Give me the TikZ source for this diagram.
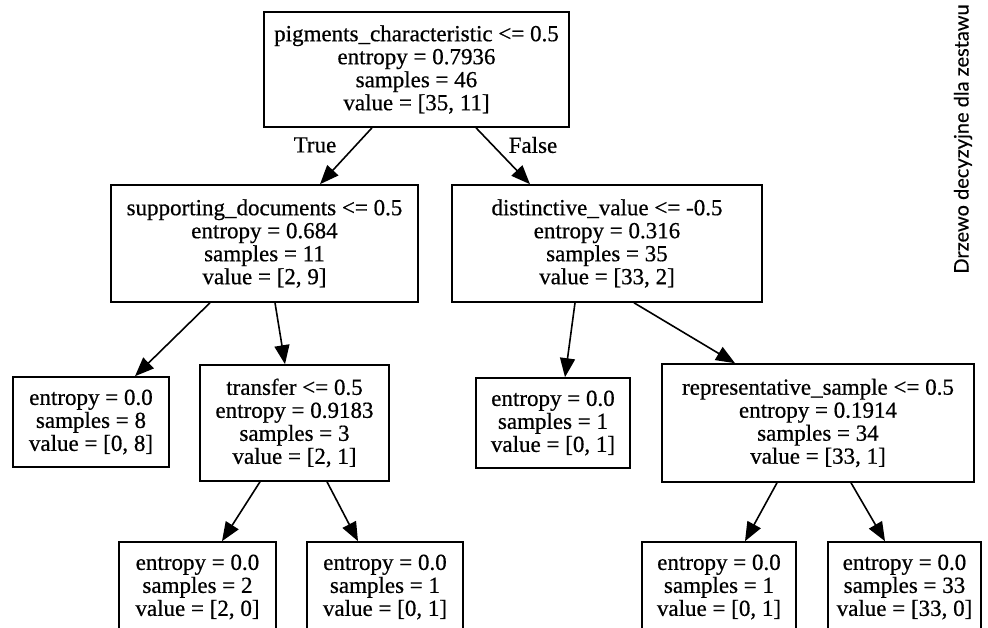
\documentclass[tikz,border=0pt]{standalone}
\usepackage{fontspec}
\setmainfont{Liberation Serif}[FakeBold=0.6]
\newfontfamily\titlefont{Lato}[FakeBold=0.3]
\usetikzlibrary{arrows.meta}

\begin{document}
\begin{tikzpicture}[x=1pt, y=-1pt,
    treenode/.style={draw, line width=1.6pt, rectangle, align=center, inner sep=0pt,
      font=\fontsize{23}{23}\selectfont},
    leafnode/.style={treenode, minimum width=155, minimum height=90},
    edge/.style={line width=1.6pt, -{Triangle[length=19pt, width=15pt]}},
    edgelabel/.style={font=\fontsize{23}{23}\selectfont}]
    \useasboundingbox (0,0) rectangle (988,628);
    \clip (0,0) rectangle (988,628);

    % Draw split nodes
    \node[treenode, minimum width=305, minimum height=115] (root) at (416.5,69.5)
      {pigments\_characteristic <= 0.5\\entropy = 0.7936\\samples = 46\\value = [35, 11]};
    \node[treenode, minimum width=307, minimum height=117] (supp) at (264.5,243.5)
      {supporting\_documents <= 0.5\\entropy = 0.684\\samples = 11\\value = [2, 9]};
    \node[treenode, minimum width=310, minimum height=117] (dist) at (607,243.5)
      {distinctive\_value <= -0.5\\entropy = 0.316\\samples = 35\\value = [33, 2]};
    \node[treenode, minimum width=189, minimum height=116] (transfer) at (294.5,423)
      {transfer <= 0.5\\entropy = 0.9183\\samples = 3\\value = [2, 1]};
    \node[treenode, minimum width=312, minimum height=118] (repr) at (818,423)
      {representative\_sample <= 0.5\\entropy = 0.1914\\samples = 34\\value = [33, 1]};

    % Draw leaves
    \node[leafnode, minimum width=156] (leafa) at (91,422)
      {entropy = 0.0\\samples = 8\\value = [0, 8]};
    \node[leafnode, minimum width=154] (leafb) at (553,423)
      {entropy = 0.0\\samples = 1\\value = [0, 1]};
    \node[leafnode, minimum width=157] (leafc) at (197.5,587)
      {entropy = 0.0\\samples = 2\\value = [2, 0]};
    \node[leafnode, minimum width=156] (leafd) at (385,587)
      {entropy = 0.0\\samples = 1\\value = [0, 1]};
    \node[leafnode, minimum width=154] (leafe) at (719,587)
      {entropy = 0.0\\samples = 1\\value = [0, 1]};
    \node[leafnode, minimum width=153] (leaff) at (904.5,587)
      {entropy = 0.0\\samples = 33\\value = [33, 0]};

    % Draw edges
    \foreach \a/\sa/\b/\sb in {root/-44.5/supp/55.5, root/59.5/dist/-77,
        supp/-54.5/leafa/44, supp/10.5/transfer/-9.5,
        dist/-32/leafb/12, dist/27/repr/-83,
        transfer/-34.5/leafc/24.5, transfer/32.5/leafd/-27,
        repr/-41/leafe/26, repr/33/leaff/-19.5} {
      \draw[edge] ([xshift=\sa]\a.south) -- ([xshift=\sb]\b.north);
    }

    % Edge labels
    \node[edgelabel] (true) at (315,145) {True};
    \node[edgelabel] (false) at (533,145) {False};

    % Caption on the right
    \node[rotate=90, font=\titlefont\fontsize{20}{22}\selectfont] (title) at (963,139)
      {Drzewo decyzyjne dla zestawu};
\end{tikzpicture}
\end{document}
